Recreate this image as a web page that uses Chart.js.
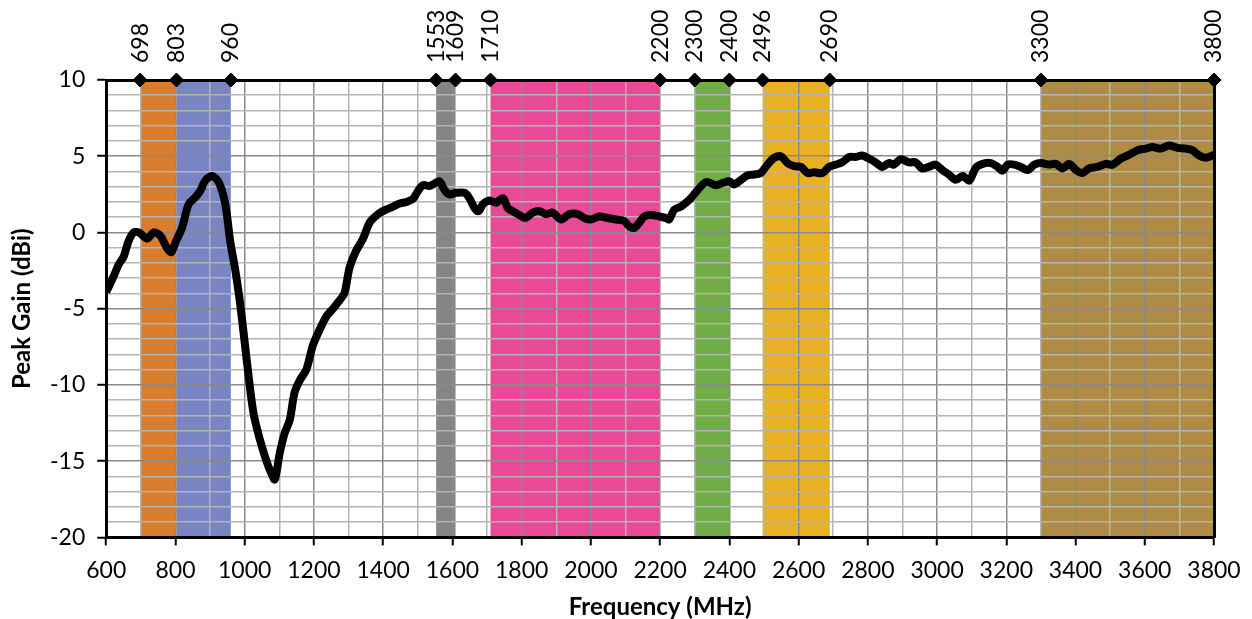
<!DOCTYPE html>
<html>
<head>
<meta charset="utf-8">
<script src="https://cdn.jsdelivr.net/npm/chart.js@4"></script>
<style>
    body { margin: 0; background: #fff; }
    #wrap { width: 1252px; height: 619px; }
</style>
</head>
<body>
<div id="wrap"><canvas id="gainChart"></canvas></div>
<script>
// Measured peak gain (dBi) vs frequency (MHz)
const freqMHz = [
    600, 621, 636, 650, 665, 679, 694, 718, 737, 756, 775, 788, 800, 819, 838, 857, 871, 886, 906, 925,
    944, 958, 973, 987, 1006, 1025, 1044, 1063, 1077, 1087, 1101, 1115, 1130, 1144, 1159, 1178, 1197, 1216, 1236, 1255,
    1274, 1288, 1303, 1322, 1341, 1361, 1380, 1399, 1429, 1448, 1467, 1486, 1500, 1515, 1534, 1548, 1563, 1577, 1591, 1611,
    1635, 1649, 1664, 1676, 1688, 1707, 1726, 1746, 1760, 1774, 1793, 1810, 1832, 1851, 1871, 1890, 1914, 1938, 1962, 1981,
    2000, 2024, 2048, 2072, 2096, 2111, 2125, 2140, 2154, 2173, 2197, 2217, 2226, 2241, 2260, 2285, 2309, 2333, 2362, 2381,
    2400, 2414, 2434, 2453, 2472, 2491, 2510, 2530, 2549, 2568, 2587, 2607, 2626, 2645, 2669, 2688, 2707, 2726, 2746, 2765,
    2784, 2803, 2822, 2842, 2861, 2875, 2895, 2919, 2938, 2957, 2976, 2995, 3015, 3034, 3054, 3074, 3093, 3112, 3132, 3156,
    3175, 3189, 3204, 3223, 3242, 3262, 3281, 3300, 3324, 3343, 3362, 3382, 3401, 3420, 3439, 3463, 3487, 3507, 3531, 3555,
    3579, 3603, 3622, 3646, 3670, 3694, 3718, 3737, 3757, 3776, 3795, 3800
];
const peakGain = [
    -3.9, -2.9, -2.1, -1.6, -0.55, 0, 0, -0.4, 0, -0.2, -1.0, -1.3, -0.65, 0.3, 1.85, 2.3, 2.7, 3.4, 3.7, 3.3,
    1.85, -0.55, -2.5, -4.7, -8.4, -11.8, -13.6, -15, -15.8, -16.2, -14.5, -13.2, -12.3, -10.5, -9.7, -9.0, -7.4, -6.4, -5.5, -5.0,
    -4.45, -4.0, -2.3, -1.2, -0.45, 0.65, 1.1, 1.4, 1.7, 1.9, 2.0, 2.2, 2.7, 3.1, 3.05, 3.2, 3.35, 2.8, 2.5, 2.6,
    2.6, 2.25, 1.6, 1.4, 1.85, 2.1, 1.95, 2.25, 1.6, 1.4, 1.15, 0.95, 1.3, 1.4, 1.2, 1.3, 0.85, 1.2, 1.2, 0.95,
    0.85, 1.05, 0.95, 0.85, 0.75, 0.4, 0.3, 0.65, 1.05, 1.15, 1.05, 0.95, 0.85, 1.5, 1.7, 2.15, 2.8, 3.3, 3.1, 3.25,
    3.35, 3.15, 3.45, 3.75, 3.8, 3.9, 4.45, 4.9, 5.0, 4.55, 4.35, 4.3, 3.9, 3.95, 3.9, 4.3, 4.45, 4.6, 4.95, 4.95,
    5.05, 4.85, 4.6, 4.3, 4.55, 4.45, 4.8, 4.6, 4.6, 4.2, 4.3, 4.45, 4.1, 3.8, 3.45, 3.7, 3.4, 4.25, 4.5, 4.55,
    4.3, 4.05, 4.45, 4.45, 4.3, 4.1, 4.45, 4.55, 4.45, 4.5, 4.2, 4.5, 4.1, 3.9, 4.2, 4.3, 4.5, 4.45, 4.85, 5.1,
    5.4, 5.5, 5.6, 5.5, 5.7, 5.55, 5.5, 5.4, 5.05, 4.9, 5.05, 5.1
];

// Frequency bands shaded behind the curve
const bandStart = [698, 803, 1553, 1710, 2300, 2496, 3300];
const bandEnd = [803, 960, 1609, 2200, 2400, 2690, 3800];
const bandColors = ["#d97c2b", "#7885c2", "#858585", "#e84a98", "#70ad47", "#e8b022", "#b08b46"];

// Band edge markers along the top axis
const edgeTicks = [698, 803, 960, 1553, 1609, 1710, 2200, 2300, 2400, 2496, 2690, 3300, 3800];

const xMin = 600, xMax = 3800, yMin = -20, yMax = 10;

const FONT = "Lato";
const majorGrid = "#8a8a8a";
const minorGrid = "#b4b4b4";

// Bands go in before the grid so the grid lines show through them
const bandPlugin = {
    id: "bands",
    beforeDraw(chart) {
        const { ctx, chartArea, scales } = chart;
        ctx.save();
        bandStart.forEach((start, i) => {
            const x0 = scales.x.getPixelForValue(start);
            const x1 = scales.x.getPixelForValue(bandEnd[i]);
            ctx.fillStyle = bandColors[i];
            ctx.fillRect(x0, chartArea.top, x1 - x0, chartArea.bottom - chartArea.top);
        });
        ctx.restore();
    },
    // vertical edge labels above the diamonds
    afterDraw(chart) {
        const { ctx, chartArea, scales } = chart;
        ctx.save();
        ctx.fillStyle = "#000";
        ctx.font = "23px " + FONT;
        ctx.textAlign = "left";
        ctx.textBaseline = "middle";
        edgeTicks.forEach(v => {
            const x = scales.x2.getPixelForValue(v);
            ctx.save();
            ctx.translate(x, chartArea.top - 17);
            ctx.rotate(-Math.PI / 2);
            ctx.fillText(String(v), 0, 0);
            ctx.restore();
        });
        ctx.restore();
    }
};

const gainPoints = freqMHz.map((f, i) => ({ x: f, y: peakGain[i] }));
const edgePoints = edgeTicks.map(f => ({ x: f, y: yMax }));

const ctx = document.getElementById("gainChart").getContext("2d");
new Chart(ctx, {
    type: "line",
    data: {
        datasets: [{
            label: "Peak Gain",
            data: gainPoints,
            borderColor: "#000",
            borderWidth: 8,
            pointRadius: 0,
            tension: 0.3,
            fill: false,
            order: 2
        }, {
            label: "Band edges",
            type: "scatter",
            data: edgePoints,
            pointStyle: "rectRot",
            pointRadius: 7,
            backgroundColor: "#000",
            borderColor: "#000",
            clip: false,
            order: 1
        }]
    },
    options: {
        responsive: true,
        maintainAspectRatio: false,
        animation: false,
        layout: { padding: { left: 6, right: 38, top: 80, bottom: 0 } },
        plugins: {
            legend: { display: false },
            tooltip: { enabled: false }
        },
        scales: {
            x: {
                type: "linear",
                min: xMin,
                max: xMax,
                ticks: {
                    stepSize: 100,
                    autoSkip: false,
                    maxRotation: 0,
                    color: "#000",
                    font: { family: FONT, size: 23 },
                    padding: 11,
                    callback: v => (v % 200 === 0 ? v : "")
                },
                grid: {
                    color: c => (c.tick && c.tick.value % 200 === 0 ? majorGrid : minorGrid),
                    lineWidth: 1.5,
                    tickLength: 8,
                    tickColor: c => (c.tick && c.tick.value % 200 === 0 ? "#000" : "rgba(0,0,0,0)"),
                    tickWidth: 2
                },
                border: { color: "#000", width: 3 },
                title: {
                    display: true,
                    text: "Frequency (MHz)",
                    color: "#000",
                    font: { family: FONT, size: 24, weight: "bold", lineHeight: 1 },
                    padding: { top: 0, bottom: 0 }
                }
            },
            x2: {
                type: "linear",
                position: "top",
                min: xMin,
                max: xMax,
                ticks: { display: false },
                grid: { drawOnChartArea: false, drawTicks: false },
                border: { color: "#000", width: 3 }
            },
            y: {
                min: yMin,
                max: yMax,
                ticks: {
                    stepSize: 1,
                    autoSkip: false,
                    color: "#000",
                    font: { family: FONT, size: 23 },
                    padding: 12,
                    callback: v => (v % 5 === 0 ? v : "")
                },
                grid: {
                    color: c => (c.tick && c.tick.value % 5 === 0 ? majorGrid : minorGrid),
                    lineWidth: 1.5,
                    tickLength: 9,
                    tickColor: c => (c.tick && c.tick.value % 5 === 0 ? "#000" : "rgba(0,0,0,0)"),
                    tickWidth: 2
                },
                border: { color: "#000", width: 3 },
                title: {
                    display: true,
                    text: "Peak Gain (dBi)",
                    color: "#000",
                    font: { family: FONT, size: 24, weight: "bold", lineHeight: 1 },
                    padding: { bottom: 4 }
                }
            },
            y2: {
                position: "right",
                min: yMin,
                max: yMax,
                ticks: { display: false },
                grid: { drawOnChartArea: false, drawTicks: false },
                border: { color: "#000", width: 3 }
            }
        }
    },
    plugins: [bandPlugin]
});
</script>
</body>
</html>
